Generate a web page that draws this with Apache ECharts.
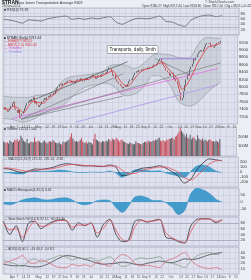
<!DOCTYPE html>
<html><head><meta charset="utf-8">
<script src="https://cdn.jsdelivr.net/npm/echarts@6/dist/echarts.min.js"></script>
<style>html,body{margin:0;padding:0;background:#eceef4}#c{width:251px;height:280px}</style>
</head><body><div id="c"></div>
<script>
// ---------- calendar ----------
const holidays = ['2014-04-18','2014-05-26','2014-07-04','2014-09-01','2014-11-27'];
const monthNames = ['Jan','Feb','Mar','Apr','May','Jun','Jul','Aug','Sep','Oct','Nov','Dec'];
// ---------- price (daily closes, Mar 21 .. Nov 28 2014) ----------
const firstOpen = 7400;
const closes = [
7420,7450,7380,7330,7360,7400,7480,7560,7600,7420,
7380,7300,7380,7170,7220,7280,7350,7430,7500,7560,
7600,7640,7610,7670,7720,7560,7600,7520,7460,7500,
7540,7600,7640,7700,7660,7720,7760,7740,7800,7780,
7840,7820,7900,7960,8000,8060,8080,8040,8100,8080,
8110,8140,8170,8190,8170,8110,8140,8100,8150,8180,
8210,8190,8230,8200,8150,8180,8220,8200,8240,8260,
8280,8300,8330,8280,8220,8250,8300,8320,8280,8340,
8360,8380,8350,8400,8470,8520,8480,8410,8300,8330,
8200,8150,8120,8080,8040,8000,7960,8000,8050,8020,
8080,8150,8200,8180,8250,8320,8380,8420,8400,8450,
8430,8470,8460,8490,8500,8480,8520,8500,8540,8520,
8560,8600,8580,8620,8660,8700,8760,8680,8600,8560,
8520,8440,8400,8380,8300,8360,8380,8200,8250,8150,
8060,7950,7850,7640,7700,7880,8050,8200,8350,8300,
8480,8550,8620,8750,8720,8800,8880,8920,8960,8990,
8950,9020,9080,9150,9180,9170,9190,9110,9080,9060,
9100,9140,9180,9210,9200,9240];
const volumes = [
150,140,135,145,130,160,150,140,145,170,
160,175,150,165,210,185,160,150,140,175,
130,135,150,145,140,195,150,145,160,150,
140,135,150,160,145,130,140,155,150,145,
165,150,140,135,130,145,125,120,150,140,
145,150,160,170,200,235,180,160,150,155,
145,150,165,190,150,140,135,150,130,145,
140,135,120,180,230,170,160,150,145,140,
155,150,145,160,150,175,165,150,180,170,
165,190,175,160,150,165,170,150,145,140,
130,125,140,135,130,120,125,150,140,135,
130,125,120,135,145,150,140,160,150,145,
150,160,155,170,165,180,190,160,150,165,
155,150,170,165,180,175,190,185,170,200,
210,230,250,290,260,240,220,200,230,190,
180,220,170,185,200,175,160,215,180,170,
165,180,155,170,160,150,165,175,160,150,
155,145,160,150,140,175];
// ---------- sampled indicator values (every 5 trading days) ----------
const sampleIdx = [0,5,10,15,20,25,30,35,40,45,50,55,60,65,70,75,80,85,90,95,100,105,110,115,120,125,130,135,140,145,150,155,160,165,170,175];
const bbUpper = [7750,7730,7720,7720,7720,7760,7780,7800,7880,8080,8220,8280,8300,8320,8340,8380,8420,8560,8600,8600,8560,8500,8560,8700,8850,8890,8880,8860,8800,8780,8790,9050,9280,9330,9320,9310];
const bbLower = [7150,7130,7100,7050,7080,7150,7250,7350,7420,7450,7560,7720,7880,7980,8040,8060,8100,8080,7980,7800,7760,7800,7900,8100,8300,8300,8200,8000,7650,7520,7480,7550,7700,7880,8020,8130];
const rsi = [58,55,50,44,56,54,52,60,64,68,70,58,62,58,63,60,64,68,48,40,50,60,62,60,64,70,50,48,38,32,55,66,72,74,68,72];
const macdLine = [70,55,15,-10,20,60,55,70,95,140,165,155,135,120,125,115,110,140,100,-70,-60,10,70,85,100,125,80,10,-80,-220,-150,40,180,262,245,225];
const macdSignal = [85,75,55,30,15,30,45,55,70,100,135,150,145,130,125,120,115,120,120,40,-30,-30,20,55,80,100,100,60,0,-110,-160,-80,40,160,220,235];
const macdHist = [-15,-20,-40,-40,5,30,10,15,25,40,30,5,-10,-10,0,-5,-5,20,-20,-110,-30,40,50,30,20,25,-20,-50,-80,-110,10,120,140,102,25,-10];
const histPanel = [-15,-20,-5,15,25,30,20,15,20,28,30,15,-10,-20,-10,10,15,10,-40,-75,-30,35,43,30,10,10,-5,-40,-90,-60,60,100,85,60,20,0];
const stochK = [85,40,70,15,80,85,60,75,85,90,88,55,80,70,80,30,75,92,40,15,20,85,90,82,88,92,30,25,15,10,70,92,94,93,80,92];
const stochD = [80,55,60,30,60,85,68,70,82,88,88,65,72,72,78,45,62,88,55,22,18,65,88,85,86,90,45,28,18,12,50,85,93,93,85,87];
const adx = [18,16,15,16,14,13,14,18,24,30,34,33,30,27,24,20,18,19,20,22,21,18,17,20,22,24,22,21,24,28,27,28,32,36,38,40];
const plusDI = [25,22,18,14,24,28,22,26,30,34,32,26,30,28,30,24,28,32,22,14,16,26,30,28,30,32,22,20,16,12,24,34,38,40,36,40];
const minusDI = [20,24,28,34,22,20,26,22,16,12,12,18,15,17,14,22,18,14,28,36,32,20,15,16,14,12,24,28,34,40,26,16,12,10,12,8];
// EMA(8) sampled every 4 days
const emaIdx = [0,4,8,12,16,20,24,28,32,36,40,44,48,52,56,60,64,68,72,76,80,84,88,92,96,100,104,108,112,116,120,124,128,132,136,140,144,148,152,156,160,164,168,172,175];
const ema8 = [7420,7400,7480,7420,7300,7480,7620,7580,7560,7680,7780,7900,8040,8120,8150,8160,8200,8200,8270,8270,8310,8380,8430,8260,8080,8020,8150,8330,8440,8490,8530,8610,8660,8520,8360,8220,7930,8080,8330,8620,8850,9050,9110,9140,9180];
// drawn trendlines: [startIndex, startPrice, endIndex, endPrice]
const trendGray = [[20,7600,100,8680],[14,7130,96,8350],[14,7130,175,8650],[14,7130,96,7750],[122,8760,150,8320]];
const trendPink = [7,7150,173,8500];
const trendLavender = [58,7050,173,8060];
const trendPurple = [126,8760,155,8760];

// ---------- build ----------
const dates = [];
for (let d = new Date(Date.UTC(2014,2,21)); d <= new Date(Date.UTC(2014,11,17)); d.setUTCDate(d.getUTCDate()+1)) {
  const w = d.getUTCDay(); if (w===0||w===6) continue;
  const s = d.toISOString().slice(0,10); if (holidays.includes(s)) continue;
  dates.push(s);
}
const dow = i => new Date(dates[i]+'T00:00:00Z').getUTCDay();
const weekStart = i => i>0 && dow(i) < dow(i-1);
const monthStart = i => i>0 && dates[i].slice(5,7) !== dates[i-1].slice(5,7);
function nearMonth(i){ for(let k=i-3;k<=i+3;k++){ if(k!==i && k>0 && k<dates.length && monthStart(k)) return true;} return false; }
const labelAt = i => monthStart(i) || (weekStart(i) && i>4 && !nearMonth(i));
const fmt = i => monthStart(i) ? monthNames[+dates[i].slice(5,7)-1] : String(+dates[i].slice(8,10));

const candles = closes.map((c,i)=>{ const o = i===0?firstOpen:closes[i-1]; return [o,c,Math.min(o,c),Math.max(o,c)]; });
const volData = volumes.map((v,i)=>({value:v, itemStyle:{color:(i>0 && closes[i]<closes[i-1])?'#c8505e':'#5a5a60'}}));
const pairs = (idx,arr)=>idx.map((x,j)=>[x,arr[j]]);

const FONT = 'Liberation Sans';
const grids = [[8,27],[35,89],[127,29],[157,30],[188,28],[217,29],[247,27]];
const gridOpts = grids.map(g=>({left:3,right:12,top:g[0],height:g[1],show:true,backgroundColor:'#dfe1ee',borderColor:'#8e90a4',borderWidth:0.5}));
const xAxes = grids.map((g,k)=>({type:'category',gridIndex:k,data:dates,boundaryGap:true,
  axisLine:{show:false},axisTick:{show:false},
  axisLabel:{show:(k===1||k===6),interval:(i)=>labelAt(i),hideOverlap:false,
    formatter:(v,i)=>fmt(i),fontSize:3.3,color:'#555',margin:1.2,fontFamily:FONT},
  splitLine:{show:true,interval:(i)=>weekStart(i),lineStyle:{color:'#c4c6da',width:0.5}}}));
function yAx(k,min,max,interval,fmtFn){ return {type:'value',gridIndex:k,position:'right',min:min,max:max,interval:interval,scale:false,
  axisLine:{show:false},axisTick:{show:false},
  axisLabel:{fontSize:4,color:'#333',margin:1.5,fontFamily:FONT,formatter:fmtFn||(v=>v)},
  splitLine:{show:true,lineStyle:{color:'#c4c6da',width:0.5}}}; }
const yAxes = [
  yAx(0,0,100,20,v=>(v===0||v===100)?'':v),
  yAx(1,7000,9400,200,v=>(v===7000||v===9400)?'':v),
  yAx(2,0,300,100,v=>(v===0||v===300)?'':v+'M'),
  yAx(3,-300,300,100,v=>(Math.abs(v)===300)?'':v),
  yAx(4,-100,100,50,v=>(Math.abs(v)===100)?'':v),
  yAx(5,0,100,20,v=>(v===0||v===100)?'':v),
  yAx(6,0,50,10,v=>(v===0||v===50)?'':v)
];
function seg(t,color,w){ return {type:'line',xAxisIndex:1,yAxisIndex:1,data:[[t[0],t[1]],[t[2],t[3]]],symbol:'none',silent:true,lineStyle:{color:color,width:w||0.8}}; }
function ln(k,idx,arr,color,w,extra){ return Object.assign({type:'line',xAxisIndex:k,yAxisIndex:k,data:pairs(idx,arr),symbol:'none',smooth:0.3,silent:true,lineStyle:{color:color,width:w||0.8}},extra||{}); }
const bbDiff = bbUpper.map((u,j)=>u-bbLower[j]);

const series = [
  ln(0,sampleIdx,rsi,'#505058',0.7,{markLine:{symbol:'none',silent:true,label:{show:false},lineStyle:{color:'#8a8aa0',width:0.5,type:'solid'},data:[{yAxis:70},{yAxis:30}]}}),
  ln(1,sampleIdx,bbLower,'#8a9494',0.6,{stack:'bb'}),
  ln(1,sampleIdx,bbDiff,'#8a9494',0.6,{stack:'bb',areaStyle:{color:'rgba(150,166,166,0.38)'}}),
  seg(trendPink,'#e27ae0',0.9),
  seg(trendLavender,'#b49ae6',0.9),
  seg(trendPurple,'#9c7ee0',0.9),
  ...trendGray.map((t,j)=>seg(t,j===0?'#55555c':'#7c7c84',0.7)),
  {type:'candlestick',xAxisIndex:1,yAxisIndex:1,data:candles,barMaxWidth:1.6,silent:true,
    itemStyle:{color:'#f2f2f6',color0:'#e0101a',borderColor:'#2c2c30',borderColor0:'#d0101a',borderWidth:0.8}},
  ln(1,emaIdx,ema8,'#e0303a',0.8),
  {type:'bar',xAxisIndex:2,yAxisIndex:2,data:volData,barCategoryGap:'20%',silent:true},
  ln(3,sampleIdx,macdHist,'#2f8fc0',0.5,{areaStyle:{color:'#3a98c8',opacity:0.9}}),
  ln(3,sampleIdx,macdLine,'#303036',0.8),
  ln(3,sampleIdx,macdSignal,'#e0505a',0.8),
  ln(4,sampleIdx,histPanel,'#2f8fc0',0.5,{areaStyle:{color:'#3a98c8',opacity:0.95}}),
  ln(5,sampleIdx,stochK,'#303036',0.8,{markLine:{symbol:'none',silent:true,label:{show:false},lineStyle:{color:'#8a8aa0',width:0.5,type:'solid'},data:[{yAxis:80},{yAxis:20}]}}),
  ln(5,sampleIdx,stochD,'#e0505a',0.8),
  ln(6,sampleIdx,adx,'#303036',0.7),
  ln(6,sampleIdx,plusDI,'#7a9a7a',0.7),
  ln(6,sampleIdx,minusDI,'#d86070',0.7)
];

function txt(x,y,s,size,color,extra){ return {type:'text',left:x,top:y,silent:true,z:100,style:Object.assign({text:s,fontSize:size,fill:color,fontFamily:FONT},extra||{})}; }
const graphic = [
  txt(2,0.5,'$TRAN',5,'#111',{fontWeight:'bold'}),
  txt(17,1,'Dow Jones Transportation Average INDX',3.6,'#333'),
  txt(2,5,'28-Nov-2014',3.2,'#444'),
  txt(205,0.5,'© StockCharts.com',3.4,'#444'),
  txt(142,4.5,'Open 9180.27  High 9217.44  Low 9158.80  Close 9217.44  Chg +38.51 (+0.42%)',3.1,'#333'),
  txt(4,9,'■ RSI(14) 72.18',3.4,'#333'),
  txt(4,36.5,'■ $TRAN (Daily) 9217.44',3.3,'#222'),
  txt(4,40,'— EMA(8) 9180.25',3.3,'#d0303a'),
  txt(4,43.5,'— BB(20,2.0) 9310.42',3.3,'#d0303a'),
  txt(4,47,'— Trendline',3.3,'#d050d0'),
  txt(4,50.5,'— Trendline',3.3,'#9c7ee0'),
  txt(107,45.5,'Transports, daily, 9mth',4.6,'#222',{backgroundColor:'#ffffff',borderColor:'#666',borderWidth:0.5,padding:[1,2]}),
  txt(4,128,'■ Volume 111,617,504',3.3,'#333'),
  txt(4,158,'— MACD(12,26,9) 225.32, 235.14, -9.82',3.3,'#333'),
  txt(4,189,'■ MACD-Histogram(5,35,5) 0.41',3.3,'#333'),
  txt(4,218,'— Slow Stoch %K(14,3) 92.15  %D 87.30',3.3,'#333'),
  txt(4,248,'— ADX(14) 40.1  +DI 40.3  -DI 8.2',3.3,'#333')
];

const chart = echarts.init(document.getElementById('c'),null,{renderer:'canvas'});
chart.setOption({animation:false,backgroundColor:'#eceef4',grid:gridOpts,xAxis:xAxes,yAxis:yAxes,series:series,graphic:graphic,tooltip:{show:false}});
</script></body></html>
